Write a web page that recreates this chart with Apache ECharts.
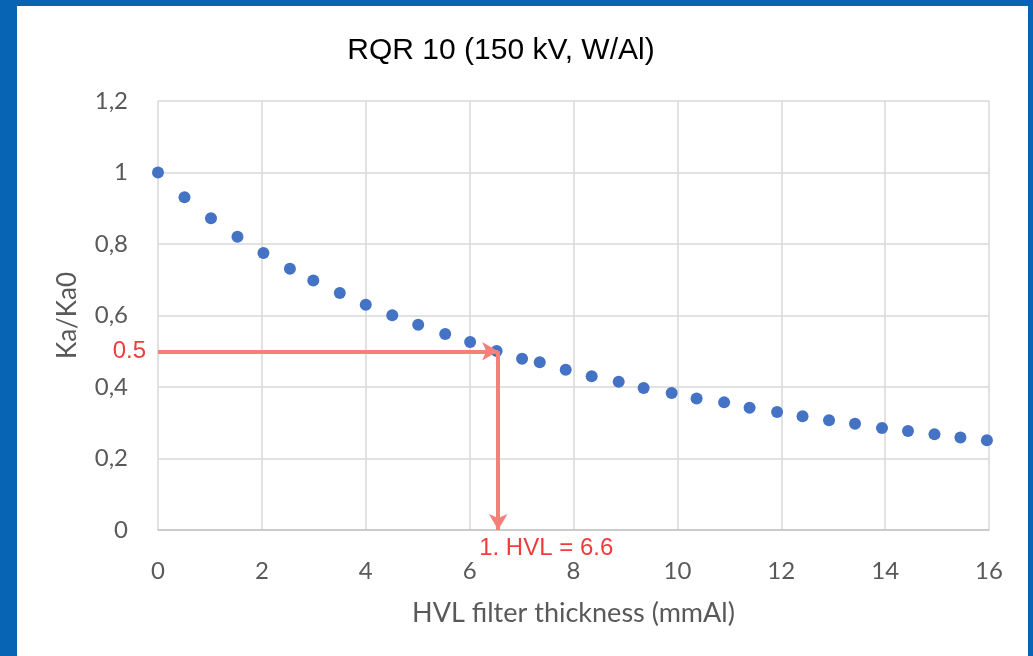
<!DOCTYPE html>
<html>
<head>
<meta charset="utf-8">
<script src="https://cdn.jsdelivr.net/npm/echarts@6/dist/echarts.min.js"></script>
<style>
  html, body { margin: 0; padding: 0; background: #fff; }
  #chart { width: 1033px; height: 656px; }
</style>
</head>
<body>
<div id="chart"></div>
<script>
// measured thickness (mmAl) and relative air kerma Ka/Ka0
const thickness = [0, 0.51, 1.02, 1.53, 2.03, 2.54, 2.99, 3.5, 4.0, 4.51, 5.01, 5.53, 6.01, 6.52, 7.01, 7.35,
  7.85, 8.35, 8.87, 9.35, 9.89, 10.37, 10.9, 11.39, 11.92, 12.41, 12.92, 13.42, 13.94, 14.44, 14.95, 15.45, 15.96];
const kaRatio = [1.0, 0.931, 0.872, 0.82, 0.775, 0.731, 0.698, 0.663, 0.63, 0.601, 0.574, 0.548, 0.526, 0.501, 0.479, 0.469,
  0.448, 0.43, 0.415, 0.397, 0.383, 0.368, 0.357, 0.342, 0.33, 0.318, 0.307, 0.297, 0.285, 0.277, 0.268, 0.259, 0.251];
const halfLevel = 0.5;
const hvlArrowX = 6.55;
const hvlText = '1. HVL = 6.6';

const points = thickness.map((t, i) => [t, kaRatio[i]]);
const lineStyle = { color: '#f4807a', width: 4, type: 'solid' };
const frame = [
  { type: 'rect', left: 0, top: 0, shape: { width: 17, height: 656 }, style: { fill: '#0764b4' } },
  { type: 'rect', left: 0, top: 0, shape: { width: 1033, height: 6 }, style: { fill: '#0764b4' } },
  { type: 'rect', right: 0, top: 0, shape: { width: 5, height: 656 }, style: { fill: '#0764b4' } }
];

let myChart = echarts.init(document.getElementById('chart'));
myChart.setOption({
  animation: false,
  backgroundColor: '#fff',
  title: {
    text: 'RQR 10 (150 kV, W/Al)',
    left: 496, top: 31, textAlign: 'center',
    textStyle: { fontFamily: 'Liberation Sans', fontSize: 30, fontWeight: 'normal', color: '#000' }
  },
  grid: { left: 158, right: 44, top: 101, bottom: 126 },
  xAxis: {
    type: 'value', min: 0, max: 16, interval: 2,
    name: 'HVL filter thickness (mmAl)', nameLocation: 'middle', nameGap: 70,
    nameTextStyle: { fontFamily: 'Lato', fontSize: 27, color: '#595959' },
    axisLine: { lineStyle: { color: '#c4c4c4', width: 1.5 } },
    axisTick: { show: false },
    axisLabel: { margin: 29, fontFamily: 'Lato', fontSize: 24, color: '#595959' },
    splitLine: { lineStyle: { color: '#d9d9d9', width: 1.5 } }
  },
  yAxis: {
    type: 'value', min: 0, max: 1.2, interval: 0.2,
    name: 'Ka/Ka0', nameLocation: 'middle', nameGap: 77,
    nameTextStyle: { fontFamily: 'Lato', fontSize: 26, color: '#595959' },
    axisLine: { show: false },
    axisTick: { show: false },
    axisLabel: {
      margin: 30, fontFamily: 'Lato', fontSize: 24, color: '#595959',
      formatter: v => String(+v.toFixed(1)).replace('.', ',')
    },
    splitLine: { lineStyle: { color: '#d9d9d9', width: 1.5 } }
  },
  series: [{
    type: 'scatter',
    data: points,
    symbolSize: 12,
    itemStyle: { color: '#4472c4', opacity: 1 },
    markLine: {
      silent: true,
      symbol: ['none', 'arrow'],
      symbolSize: [14, 16],
      lineStyle: lineStyle,
      data: [
        [
          { coord: [0, halfLevel], label: { show: true, position: 'start', distance: 12, formatter: '0.5',
              fontFamily: 'Liberation Sans', fontSize: 24, color: '#f03c3c' } },
          { coord: [hvlArrowX, halfLevel] }
        ],
        [
          { coord: [hvlArrowX, halfLevel], label: { show: false } },
          { coord: [hvlArrowX, 0] }
        ]
      ]
    }
  }],
  graphic: frame
});

// HVL label anchored to the arrow tip
const tip = myChart.convertToPixel({ seriesIndex: 0 }, [hvlArrowX, 0]);
myChart.setOption({
  graphic: frame.concat([
    { type: 'text', x: tip[0] - 19, y: tip[1] + 6,
      style: { text: hvlText, fontFamily: 'Liberation Sans', fontSize: 24, fill: '#f03c3c' } }
  ])
});
window.onresize = function() {
  myChart.resize();
};
</script>
</body>
</html>
